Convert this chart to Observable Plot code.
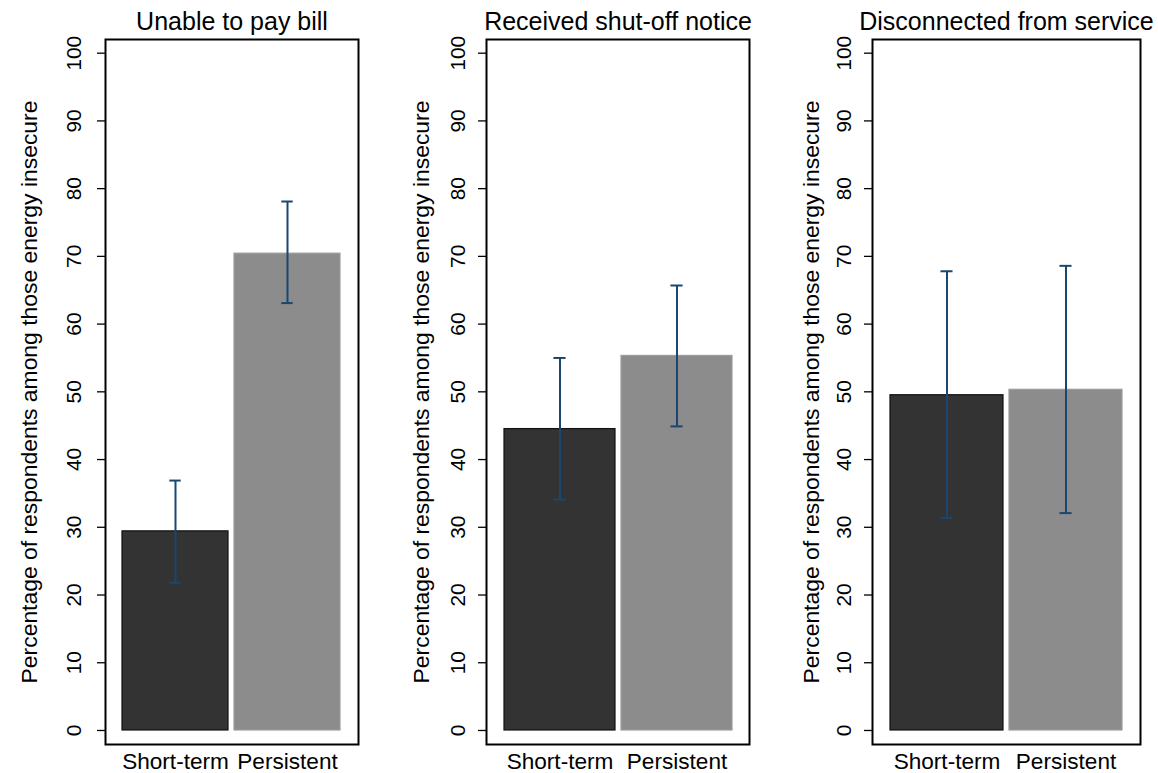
<!DOCTYPE html>
<html>
<head>
<meta charset="utf-8">
<script src="https://cdn.jsdelivr.net/npm/d3@7"></script>
<script src="https://cdn.jsdelivr.net/npm/@observablehq/plot@0.6"></script>
<style>
  html, body { margin: 0; padding: 0; background: #fff; }
  #wrap { position: relative; width: 1158px; height: 773px; background: #fff; overflow: hidden; }
  .panel { position: absolute; top: 0; }
</style>
</head>
<body>
<div id="wrap"></div>
<script>
// ---- data ----
const categories = ["Short-term", "Persistent"];
const panelTitles = ["Unable to pay bill", "Received shut-off notice", "Disconnected from service"];
const yLabel = "Percentage of respondents among those energy insecure";
const yTicks = [0, 10, 20, 30, 40, 50, 60, 70, 80, 90, 100];

const shortTermValue = [29.4, 44.5, 49.5];
const shortTermLow   = [21.8, 34.1, 31.4];
const shortTermHigh  = [36.9, 55.0, 67.8];

const persistentValue = [70.4, 55.3, 50.3];
const persistentLow   = [63.1, 44.9, 32.1];
const persistentHigh  = [78.1, 65.7, 68.6];

// ---- styles / layout ----
const fills = ["#333333", "#8c8c8c"];
const strokes = ["#111111", "#9c9c9c"];
const ciColor = "#1a476f";
const font = "'Liberation Sans', Arial, Helvetica, sans-serif";
const layout = [
  {left: 0,   width: 372, ml: 105, mr: 14, labelDx: -76, tickDx: -31.5},
  {left: 385, width: 376, ml: 101, mr: 12, labelDx: -65, tickDx: -28.6},
  {left: 770, width: 388, ml: 102, mr: 18, labelDx: -61, tickDx: -28.6}
];
const H = 773, MT = 39, MB = 29;
const padInner = 0.053, padOuter = 0.15;

const wrap = document.getElementById("wrap");

panelTitles.forEach((title, i) => {
  const L = layout[i];
  const rows = [
    {cat: categories[0], value: shortTermValue[i], lo: shortTermLow[i], hi: shortTermHigh[i], fill: fills[0], stroke: strokes[0]},
    {cat: categories[1], value: persistentValue[i], lo: persistentLow[i], hi: persistentHigh[i], fill: fills[1], stroke: strokes[1]}
  ];
  const bw = d3.scaleBand().domain(categories).range([L.ml, L.width - L.mr])
    .paddingInner(padInner).paddingOuter(padOuter).bandwidth();
  const capW = 12;
  const inset = (bw - capW) / 2;

  const chart = Plot.plot({
    width: L.width,
    height: H,
    marginLeft: L.ml,
    marginRight: L.mr,
    marginTop: MT,
    marginBottom: MB,
    style: {fontFamily: font, color: "#000", background: "#fff", overflow: "visible"},
    x: {domain: categories, paddingInner: padInner, paddingOuter: padOuter, axis: null},
    y: {domain: [-2.07, 102.02], axis: null},
    color: {type: "identity"},
    marks: [
      Plot.barY(rows, {x: "cat", y1: 0, y2: "value", fill: "fill", stroke: "stroke", strokeWidth: 1.2}),
      Plot.ruleX(rows, {x: "cat", y1: "lo", y2: "hi", stroke: ciColor, strokeWidth: 2}),
      Plot.tickY(rows, {x: "cat", y: "lo", stroke: ciColor, strokeWidth: 2, insetLeft: inset, insetRight: inset}),
      Plot.tickY(rows, {x: "cat", y: "hi", stroke: ciColor, strokeWidth: 2, insetLeft: inset, insetRight: inset}),
      Plot.frame({stroke: "#000", strokeWidth: 2}),
      Plot.axisY({ticks: yTicks, tickSize: 8, tickFormat: () => "", stroke: "#000", strokeWidth: 1.3}),
      Plot.text(yTicks, {y: d => d, text: d => String(d), frameAnchor: "left", dx: L.tickDx, rotate: -90,
        textAnchor: "middle", lineAnchor: "middle", fontSize: 20.8, fill: "#000"}),
      Plot.text([yLabel], {text: d => d, frameAnchor: "left", dx: L.labelDx, rotate: -90,
        textAnchor: "middle", lineAnchor: "middle", fontSize: 22.9, fill: "#000"}),
      Plot.axisX({tickSize: 0, tickPadding: 8, fontSize: 22.6, label: null, fill: "#000"}),
      Plot.text([title], {text: d => d, frameAnchor: "top", dy: -10, lineAnchor: "bottom",
        fontSize: 25, fill: "#000"})
    ]
  });
  chart.classList.add("panel");
  chart.style.left = L.left + "px";
  wrap.appendChild(chart);
});
</script>
</body>
</html>
